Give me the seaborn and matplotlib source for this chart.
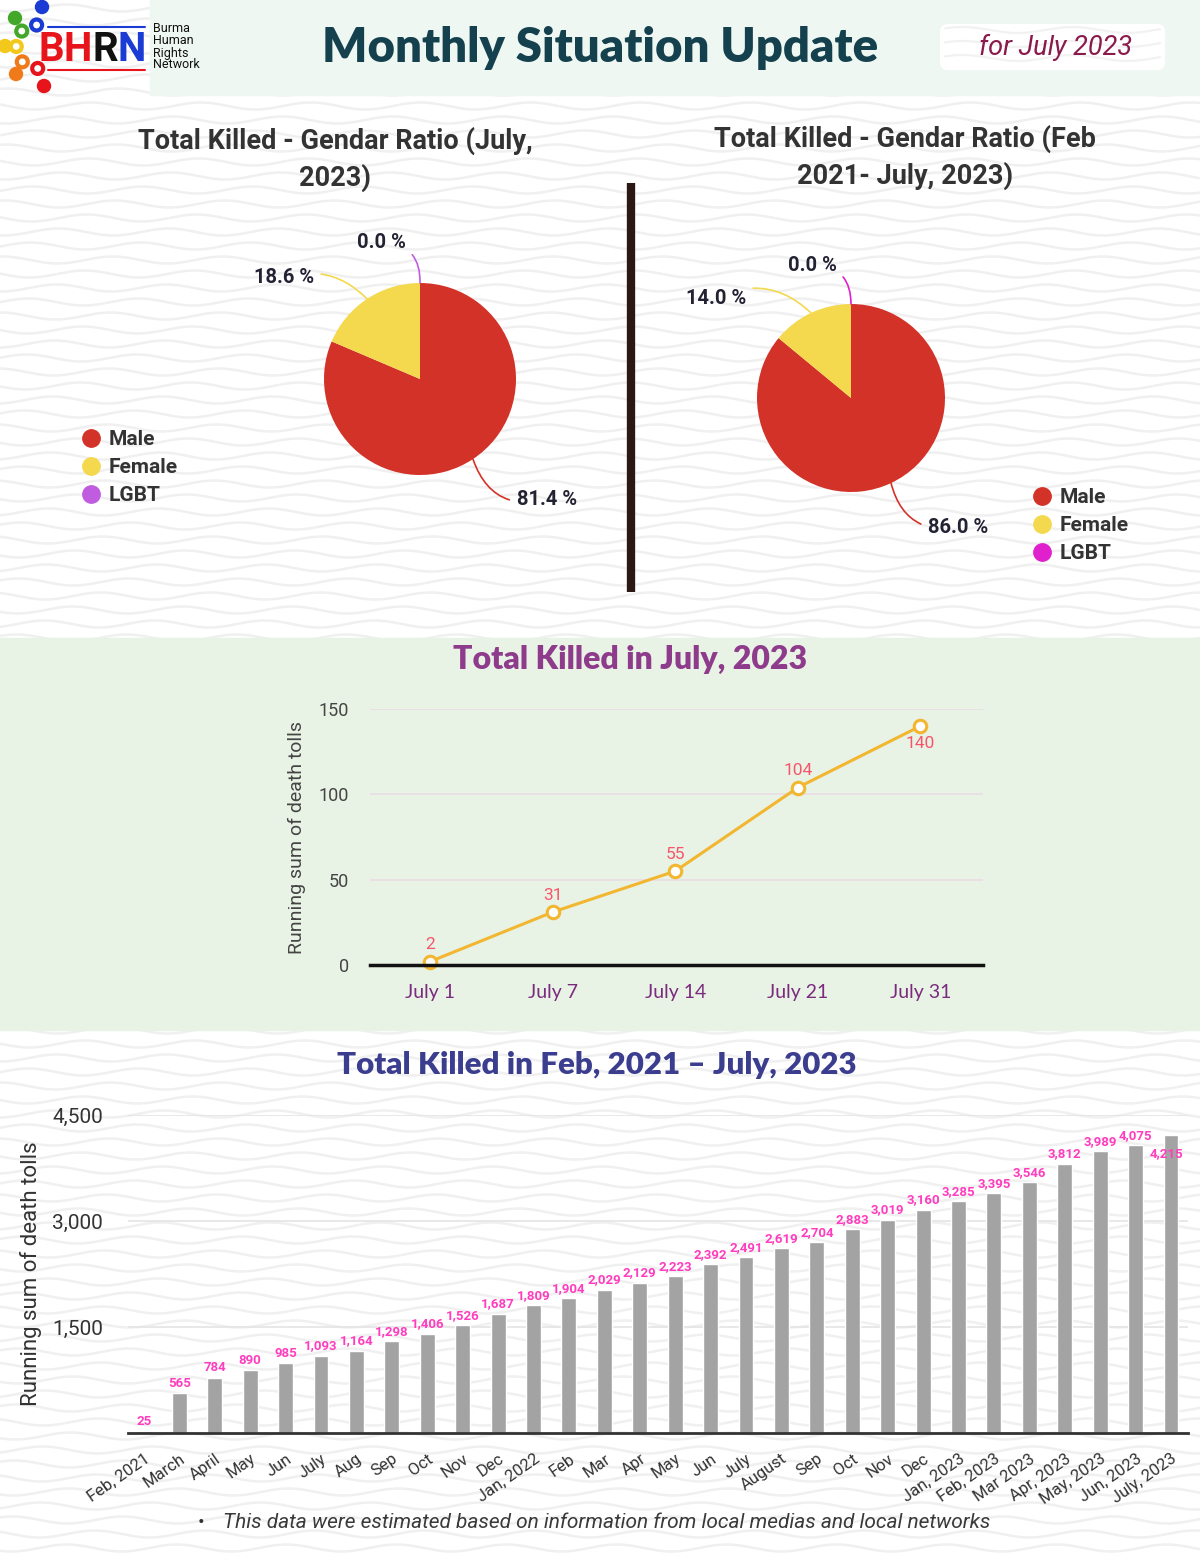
import numpy as np
import matplotlib
matplotlib.use("Agg")
import matplotlib.pyplot as plt
import seaborn as sns
from matplotlib import font_manager
from matplotlib.lines import Line2D
from matplotlib.patches import Rectangle, FancyBboxPatch, Circle

# ---- data ----
genders = ["Male", "Female", "LGBT"]
share_july = [81.4, 18.6, 0.0]
share_total = [86.0, 14.0, 0.0]

july_days = ["July 1", "July 7", "July 14", "July 21", "July 31"]
july_running = [2, 31, 55, 104, 140]

months = ["Feb, 2021", "March", "April", "May", "Jun", "July", "Aug", "Sep", "Oct",
          "Nov", "Dec", "Jan, 2022", "Feb", "Mar", "Apr", "May", "Jun", "July",
          "August", "Sep", "Oct", "Nov", "Dec", "Jan, 2023", "Feb, 2023",
          "Mar 2023", "Apr, 2023", "May, 2023", "Jun, 2023", "July, 2023"]
month_running = [25, 565, 784, 890, 985, 1093, 1164, 1298, 1406, 1526, 1687, 1809,
                 1904, 2029, 2129, 2223, 2392, 2491, 2619, 2704, 2883, 3019, 3160,
                 3285, 3395, 3546, 3812, 3989, 4075, 4215]

# ---- fonts ----
installed = {f.name for f in font_manager.fontManager.ttflist}
COND = "Liberation Sans Narrow" if "Liberation Sans Narrow" in installed else "Roboto"
GEO = "Lato"

sns.set_theme(style="white")
plt.rcParams["font.family"] = ["Roboto", "DejaVu Sans"]

W, H = 1200, 1553
fig = plt.figure(figsize=(W / 100, H / 100), dpi=100)


def px_axes(x0, y0, x1, y1):
    return fig.add_axes([x0 / W, 1 - y1 / H, (x1 - x0) / W, (y1 - y0) / H])


# ---- background (pixel space) ----
bg = px_axes(0, 0, W, H)
bg.set_xlim(0, W)
bg.set_ylim(H, 0)
bg.axis("off")
bg.set_zorder(-5)

wx = np.linspace(0, W, 600)
for y0 in np.arange(-6, H + 10, 14):
    bg.plot(wx, y0 + 3.5 * np.sin(2 * np.pi * (wx + y0 * 2) / 110), color="#f0f0f0", lw=1.8, zorder=0)

bg.add_patch(Rectangle((150, 0), W - 150, 95, color="#eef7f1", zorder=1))
bg.add_patch(Rectangle((0, 638), W, 392, color="#e8f3e6", zorder=1))
box = FancyBboxPatch((940, 24), 225, 46, boxstyle="round,pad=0,rounding_size=8",
                     fc="white", ec="none", zorder=2)
bg.add_patch(box)
for y0 in (30, 44, 58):
    xx = np.linspace(945, 1160, 200)
    bg.plot(xx, y0 + 3 * np.sin(2 * np.pi * xx / 110), color="#f2f2f2", lw=1.6, zorder=2.5)

# logo
bg.plot([48, 145], [27, 27], color="#1a3bd4", lw=1.5, zorder=3)
bg.plot([48, 145], [70, 70], color="#e8141c", lw=1.5, zorder=3)
for (cx, cy, c) in [(42, 7, "#1a3bd4"), (15, 18, "#43a82a"), (5, 46, "#f2c81a"),
                    (16, 74, "#f07a1a"), (44, 86, "#e8141c")]:
    bg.add_patch(Circle((cx, cy), 6.5, color=c, zorder=3))
    bx, by = cx + (30 - cx) * 0.45, cy + (47 - cy) * 0.45
    bg.add_patch(Circle((bx, by), 5.5, fc="white", ec=c, lw=3, zorder=3))
for ch, x, c in [("B", 51, "#e8141c"), ("H", 78, "#e8141c"), ("R", 105, "#111111"), ("N", 132, "#1a3bd4")]:
    bg.text(x, 50, ch, fontsize=29, fontweight="bold", color=c, ha="center", va="center",
            family="Roboto", zorder=4)
bg.text(153, 47, "Burma\nHuman\nRights\nNetwork", fontsize=9, linespacing=0.9, va="center",
        color="#111111", zorder=4)

bg.text(600, 48, "Monthly Situation Update", fontsize=34, fontweight="heavy", family=GEO,
        color="#15414f", ha="center", va="center", zorder=4)
bg.text(1056, 47, "for July 2023", fontsize=19.5, style="italic", family=COND,
        color="#8a1a4c", ha="center", va="center", zorder=4)

# pie titles + divider
bg.text(335, 159, "Total Killed - Gendar Ratio (July,\n2023)", fontsize=19.5, fontweight="bold",
        family=COND, color="#333333", ha="center", va="center", linespacing=1.4, zorder=4)
bg.text(905, 157, "Total Killed - Gendar Ratio (Feb\n2021- July, 2023)", fontsize=19.5,
        fontweight="bold", family=COND, color="#333333", ha="center", va="center",
        linespacing=1.4, zorder=4)
bg.plot([631, 631], [183, 592], color="#2a1812", lw=6, solid_capstyle="butt", zorder=4)

# section titles and footnote
bg.text(630, 659, "Total Killed in July, 2023", fontsize=23, fontweight="heavy", family=GEO,
        color="#8e3b8c", ha="center", va="center", zorder=4)
bg.text(597, 1065, "Total Killed in Feb, 2021 \u2013 July, 2023", fontsize=22.5, fontweight="heavy",
        family=GEO, color="#3b3d8f", ha="center", va="center", zorder=4)
bg.text(201, 1523, "\u2022", fontsize=14, color="#333333", ha="center", va="center", zorder=4)
bg.text(223, 1523, "This data were estimated based on information from local medias and local networks",
        fontsize=15, style="italic", family=COND, color="#3a3a3a", ha="left", va="center", zorder=4)

# ---- pies ----
RED, YEL = "#d33228", "#f4d84e"


def draw_pie(cx, cy, r, shares, colors, label_xy, rads, legend_xy):
    half = 200
    ax = px_axes(cx - half, cy - half, cx + half, cy + half)
    wedges, _ = ax.pie(shares, colors=colors, startangle=90, counterclock=False,
                       wedgeprops=dict(linewidth=0))
    lim = half / r
    ax.set_xlim(-lim, lim)
    ax.set_ylim(-lim, lim)
    ax.set_aspect("equal")
    ax.axis("off")
    for w, s, (tx, ty), c, rad in zip(wedges, shares, label_xy, colors, rads):
        ang = np.deg2rad((w.theta1 + w.theta2) / 2)
        ax.annotate(f"{s:.1f} %", xy=(np.cos(ang), np.sin(ang)), xytext=(tx, ty),
                    fontsize=14.5, fontweight="bold", family=COND, color="#222233",
                    ha="center", va="center",
                    arrowprops=dict(arrowstyle="-", color=c, lw=1.2,
                                    connectionstyle=f"arc3,rad={rad}", shrinkA=3, shrinkB=0))
    handles = [Line2D([], [], ls="", marker="o", ms=12.5, color=c) for c in colors]
    ax.legend(handles, genders, loc="upper left", bbox_to_anchor=legend_xy,
              bbox_transform=fig.transFigure, frameon=False, handlelength=0.8,
              handletextpad=0.45, labelspacing=0.42, borderaxespad=0,
              prop=dict(family=COND, weight="bold", size=15), labelcolor="#333333")


# label positions ordered Male, Female, LGBT (pie radius units)
draw_pie(420, 379, 96, share_july, [RED, YEL, "#c05ce0"],
         [(1.32, -1.26), (-1.42, 1.06), (-0.40, 1.42)], [-0.45, -0.3, -0.5],
         (74 / W, 1 - 422 / H))
draw_pie(851, 398, 94, share_total, [RED, YEL, "#e020cc"],
         [(1.14, -1.38), (-1.44, 1.06), (-0.41, 1.41)], [-0.45, -0.35, -0.5],
         (1025 / W, 1 - 480 / H))

# ---- July line chart ----
ax1 = px_axes(370, 709, 983, 965)
ax1.set_facecolor("none")
xi = np.arange(len(july_days))
sns.lineplot(x=xi, y=july_running, ax=ax1, color="#f2b630", lw=2.2, marker="o", ms=9,
             markerfacecolor="white", markeredgecolor="#f2b630", markeredgewidth=2.2)
for line in ax1.lines:
    line.set_clip_on(False)
ax1.set_xlim(-0.49, 4.51)
ax1.set_ylim(0, 150)
ax1.set_yticks([0, 50, 100, 150])
ax1.set_xticks(xi)
ax1.set_xticklabels(july_days, fontsize=14, color="#7b2b7e", family=GEO)
ax1.tick_params(axis="x", length=10, width=1.5, color="#222222", pad=4, direction="out")
ax1.tick_params(axis="y", length=0, labelsize=13, labelcolor="#444444", pad=15)
ax1.grid(axis="y", color="#eadde6", lw=1.2)
for s in ("top", "right", "left"):
    ax1.spines[s].set_visible(False)
ax1.spines["bottom"].set_color("#111111")
ax1.spines["bottom"].set_linewidth(2.5)
ax1.set_ylabel("Running sum of death tolls", fontsize=14, color="#444444", labelpad=9)
for x, v in zip(xi, july_running):
    dy = -12.5 if v == max(july_running) else 12
    ax1.annotate(str(v), (x, v), xytext=(0, dy), textcoords="offset points",
                 ha="center", va="center", fontsize=12.5, color="#f7566a", family="Roboto")

# ---- monthly bar chart ----
ax2 = px_axes(128, 1115, 1188, 1433)
ax2.set_facecolor("none")
mi = np.arange(len(months))
sns.barplot(x=mi, y=month_running, ax=ax2, color="#a3a3a3", saturation=1, width=0.42)
ax2.set_xlim(-0.45, 29.48)
ax2.set_ylim(0, 4500)
ax2.set_yticks([1500, 3000, 4500])
ax2.set_yticklabels(["1,500", "3,000", "4,500"])
ax2.tick_params(axis="y", length=0, labelsize=15, labelcolor="#333333", pad=18)
ax2.set_xticks(mi)
ax2.set_xticklabels(months, rotation=35, ha="right", rotation_mode="anchor",
                    fontsize=12, color="#333333")
ax2.tick_params(axis="x", length=10, width=1.4, color="#333333", pad=3, direction="out")
ax2.grid(axis="y", color="#e4e4e4", lw=1.2)
ax2.set_axisbelow(True)
for s in ("top", "right", "left"):
    ax2.spines[s].set_visible(False)
ax2.spines["bottom"].set_color("#333333")
ax2.spines["bottom"].set_linewidth(2)
ax2.set_ylabel("Running sum of death tolls", fontsize=16, color="#333333", labelpad=7)
ax2.set_xlabel("")
for x, v in zip(mi, month_running):
    dy = -13 if x == len(months) - 1 else 7
    dx = -3 if x == len(months) - 1 else 0
    ax2.annotate(f"{v:,}", (x, v), xytext=(dx, dy), textcoords="offset points",
                 ha="center", va="center", fontsize=9.5, fontweight="bold",
                 family=COND, color="#ff3dbe")

fig.savefig("out.png", dpi=100)
